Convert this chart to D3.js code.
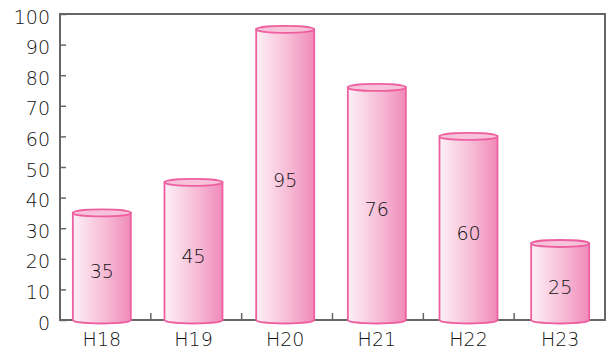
<!DOCTYPE html>
<html>
<head>
<meta charset="utf-8">
<script src="https://cdn.jsdelivr.net/npm/d3@7"></script>
<style>
  html, body { margin: 0; padding: 0; background: #fff; }
  svg { display: block; }
</style>
</head>
<body>
<svg id="chart" width="611" height="350"></svg>
<script>
// Yearly values shown as pink cylinders
const categories = ["H18", "H19", "H20", "H21", "H22", "H23"];
const values = [35, 45, 95, 76, 60, 25];
const yTicks = [0, 10, 20, 30, 40, 50, 60, 70, 80, 90, 100];

const svg = d3.select("#chart");
const x0 = 60, x1 = 605;
const y0 = 320, y1 = 14;

// Band scale for the cylinders and their labels
const x = d3.scaleBand().domain(categories).range([56, 606]);
// Band scale for the frame's category separators
const xb = d3.scaleBand().domain(categories).range([x0, x1]);
const y = d3.scaleLinear().domain([0, 100]).range([y0, y1]);

const defs = svg.append("defs");
const grad = defs.append("linearGradient").attr("id", "cyl").attr("x1", "0").attr("x2", "1").attr("y1", "0").attr("y2", "0");
grad.append("stop").attr("offset", "0%").attr("stop-color", "#fdf0f6");
grad.append("stop").attr("offset", "55%").attr("stop-color", "#f7bcd6");
grad.append("stop").attr("offset", "100%").attr("stop-color", "#f08ab9");

const axisColor = "#666";
const font = "'DejaVu Sans', sans-serif";
const textColor = "#111";
const weight = 200;

// Frame (left, top, right, bottom)
svg.append("rect").attr("x", x0).attr("y", y1).attr("width", x1 - x0).attr("height", y0 - y1)
  .attr("fill", "none").attr("stroke", axisColor).attr("stroke-width", 2);

// Y axis ticks (pointing into the plot) and labels
const yAxis = d3.axisRight(y).tickValues(yTicks).tickSize(6).tickFormat("");
svg.append("g").attr("transform", `translate(${x0},0)`).call(yAxis)
  .call(g => g.select(".domain").remove())
  .call(g => g.selectAll("line").attr("stroke", axisColor).attr("stroke-width", 1.5));
svg.append("g").selectAll("text").data(yTicks).join("text")
  .attr("x", 50).attr("y", d => y(d) + 9.5)
  .attr("text-anchor", "end").attr("font-family", font).attr("font-weight", weight)
  .attr("font-size", 19).attr("fill", textColor)
  .text(d => d);

// Category separator ticks on the bottom axis
svg.append("g").selectAll("line").data(categories.slice(1)).join("line")
  .attr("x1", d => xb(d)).attr("x2", d => xb(d))
  .attr("y1", y0).attr("y2", y0 - 7)
  .attr("stroke", axisColor).attr("stroke-width", 1.5);

// Category labels
svg.append("g").selectAll("text").data(categories).join("text")
  .attr("x", d => x(d) + x.bandwidth() / 2).attr("y", 345.5)
  .attr("text-anchor", "middle").attr("font-family", font).attr("font-weight", weight)
  .attr("font-size", 19).attr("fill", textColor)
  .text(d => d);

// Cylinders
const ry = 3.5;
const bars = svg.append("g").selectAll("g").data(categories.map((c, i) => ({ c, v: values[i] }))).join("g");
bars.each(function (d) {
  const g = d3.select(this);
  const cx = x(d.c) + x.bandwidth() / 2;
  const w = 58, rx = w / 2;
  const top = y(d.v), bot = y(0);
  const left = cx - rx, right = cx + rx;
  // Body: sides plus the lower half-ellipse
  g.append("path")
    .attr("d", `M${left},${top} L${left},${bot} A${rx},${ry} 0 0 0 ${right},${bot} L${right},${top} Z`)
    .attr("fill", "url(#cyl)").attr("stroke", "#ee5fa0").attr("stroke-width", 1.8);
  // Top lid
  g.append("ellipse").attr("cx", cx).attr("cy", top).attr("rx", rx).attr("ry", ry)
    .attr("fill", "#f7c3da").attr("stroke", "#ee5fa0").attr("stroke-width", 1.8);
  // Value label
  g.append("text").attr("x", cx).attr("y", (top + bot) / 2 + 12)
    .attr("text-anchor", "middle").attr("font-family", font).attr("font-weight", weight)
    .attr("font-size", 19).attr("fill", textColor)
    .text(d.v);
});
</script>
</body>
</html>
